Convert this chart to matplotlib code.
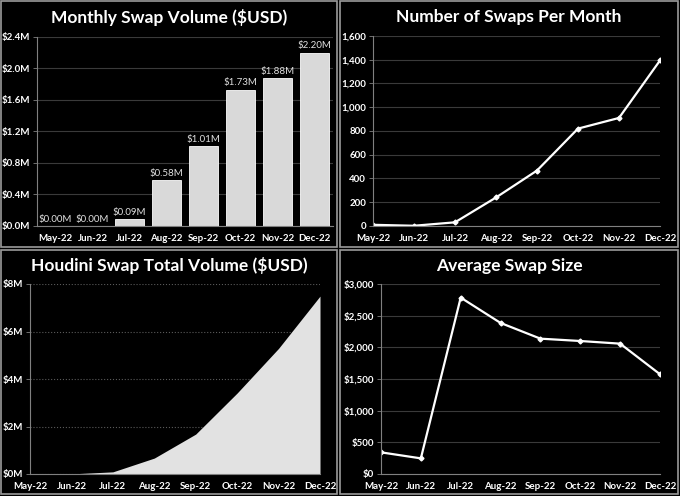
import matplotlib.pyplot as plt
from matplotlib.patches import Rectangle
from matplotlib.ticker import FuncFormatter, MultipleLocator
import numpy as np

plt.rcParams['font.family'] = ['Lato', 'DejaVu Sans']

months = ['May-22', 'Jun-22', 'Jul-22', 'Aug-22', 'Sep-22', 'Oct-22', 'Nov-22', 'Dec-22']
monthly_volume = [0.00, 0.00, 0.09, 0.58, 1.01, 1.73, 1.88, 2.20]   # $M
swap_count = [10, 2, 31, 240, 467, 820, 910, 1394]
total_volume = [0.0, 0.005, 0.09, 0.67, 1.68, 3.41, 5.29, 7.49]    # $M cumulative
avg_swap = [342, 247, 2785, 2385, 2137, 2100, 2058, 1575]

W, H = 680, 496
fig = plt.figure(figsize=(W / 100, H / 100), dpi=100, facecolor='black')

GRID = '#3a3a3a'
SPINE = '#808080'
TXT = 'white'


def px_axes(l, t, r, b):
    # pixel box (top-down coords) -> axes
    ax = fig.add_axes([l / W, 1 - b / H, (r - l) / W, (b - t) / H])
    ax.set_zorder(2)
    return ax


def panel(l, t, r, b, title, ty):
    fig.patches.append(Rectangle((l / W, 1 - b / H), (r - l) / W, (b - t) / H,
                                 transform=fig.transFigure, facecolor='none',
                                 edgecolor='#9a9a9a', linewidth=1.2, zorder=-5))
    fig.text((l + r) / 2 / W, 1 - ty / H, title, color=TXT, fontsize=12.5,
             fontweight='bold', ha='center', va='center')


def style(ax, dotted=False):
    ax.set_facecolor('black')
    for s in ['top', 'right']:
        ax.spines[s].set_visible(False)
    for s in ['left', 'bottom']:
        ax.spines[s].set_color(SPINE)
        ax.spines[s].set_linewidth(0.8)
    ax.grid(axis='y', color='#5a5a5a' if dotted else GRID,
            linestyle=':' if dotted else '-', linewidth=0.8)
    ax.set_axisbelow(True)
    ax.tick_params(colors=TXT, labelsize=7, length=3, width=0.6, pad=2)
    ax.tick_params(axis='x', length=0, pad=6)
    ax.tick_params(axis='y', color=SPINE)
    for lab in ax.get_xticklabels() + ax.get_yticklabels():
        lab.set_fontweight('bold')


panel(1, 1, 337, 247, 'Monthly Swap Volume ($USD)', 17)
panel(340, 1, 678, 247, 'Number of Swaps Per Month', 17)
panel(1, 250, 337, 494, 'Houdini Swap Total Volume ($USD)', 266)
panel(340, 250, 678, 494, 'Average Swap Size', 266)

x = np.arange(len(months))

# monthly volume bars
ax1 = px_axes(37, 37, 333, 226)
ax1.bar(x, monthly_volume, width=0.81, color='#d9d9d9', edgecolor='white', linewidth=0.6)
for xi, v in zip(x, monthly_volume):
    ax1.text(xi, v + 0.03, f'${v:.2f}M', color='#e0e0e0', fontsize=7,
             ha='center', va='bottom')
ax1.set_xlim(-0.5, 7.5)
ax1.set_ylim(0, 2.4)
ax1.yaxis.set_major_locator(MultipleLocator(0.4))
ax1.yaxis.set_major_formatter(FuncFormatter(lambda v, p: f'${v:.1f}M'))
ax1.set_xticks(x, months)
style(ax1)

# number of swaps
ax2 = px_axes(373, 36, 660, 226)
ax2.plot(x, swap_count, color='white', linewidth=1.6, marker='D', markersize=2.5)
ax2.set_xlim(0, 7)
ax2.set_ylim(0, 1600)
ax2.yaxis.set_major_locator(MultipleLocator(200))
ax2.yaxis.set_major_formatter(FuncFormatter(lambda v, p: f'{v:,.0f}'))
ax2.set_xticks(x, months)
style(ax2)

# cumulative volume area
ax3 = px_axes(30, 284, 320, 474)
ax3.fill_between(x, total_volume, color='#e2e2e2', linewidth=0)
ax3.set_xlim(0, 7)
ax3.set_ylim(0, 8)
ax3.yaxis.set_major_locator(MultipleLocator(2))
ax3.yaxis.set_major_formatter(FuncFormatter(lambda v, p: f'${v:.0f}M'))
ax3.set_xticks(x, months)
style(ax3, dotted=True)

# average swap size
ax4 = px_axes(381, 284, 660, 474)
ax4.plot(x, avg_swap, color='white', linewidth=1.6, marker='D', markersize=2.5)
ax4.set_xlim(0, 7)
ax4.set_ylim(0, 3000)
ax4.yaxis.set_major_locator(MultipleLocator(500))
ax4.yaxis.set_major_formatter(FuncFormatter(lambda v, p: f'${v:,.0f}'))
ax4.set_xticks(x, months)
style(ax4)

fig.savefig('out.png', dpi=100, facecolor='black')
